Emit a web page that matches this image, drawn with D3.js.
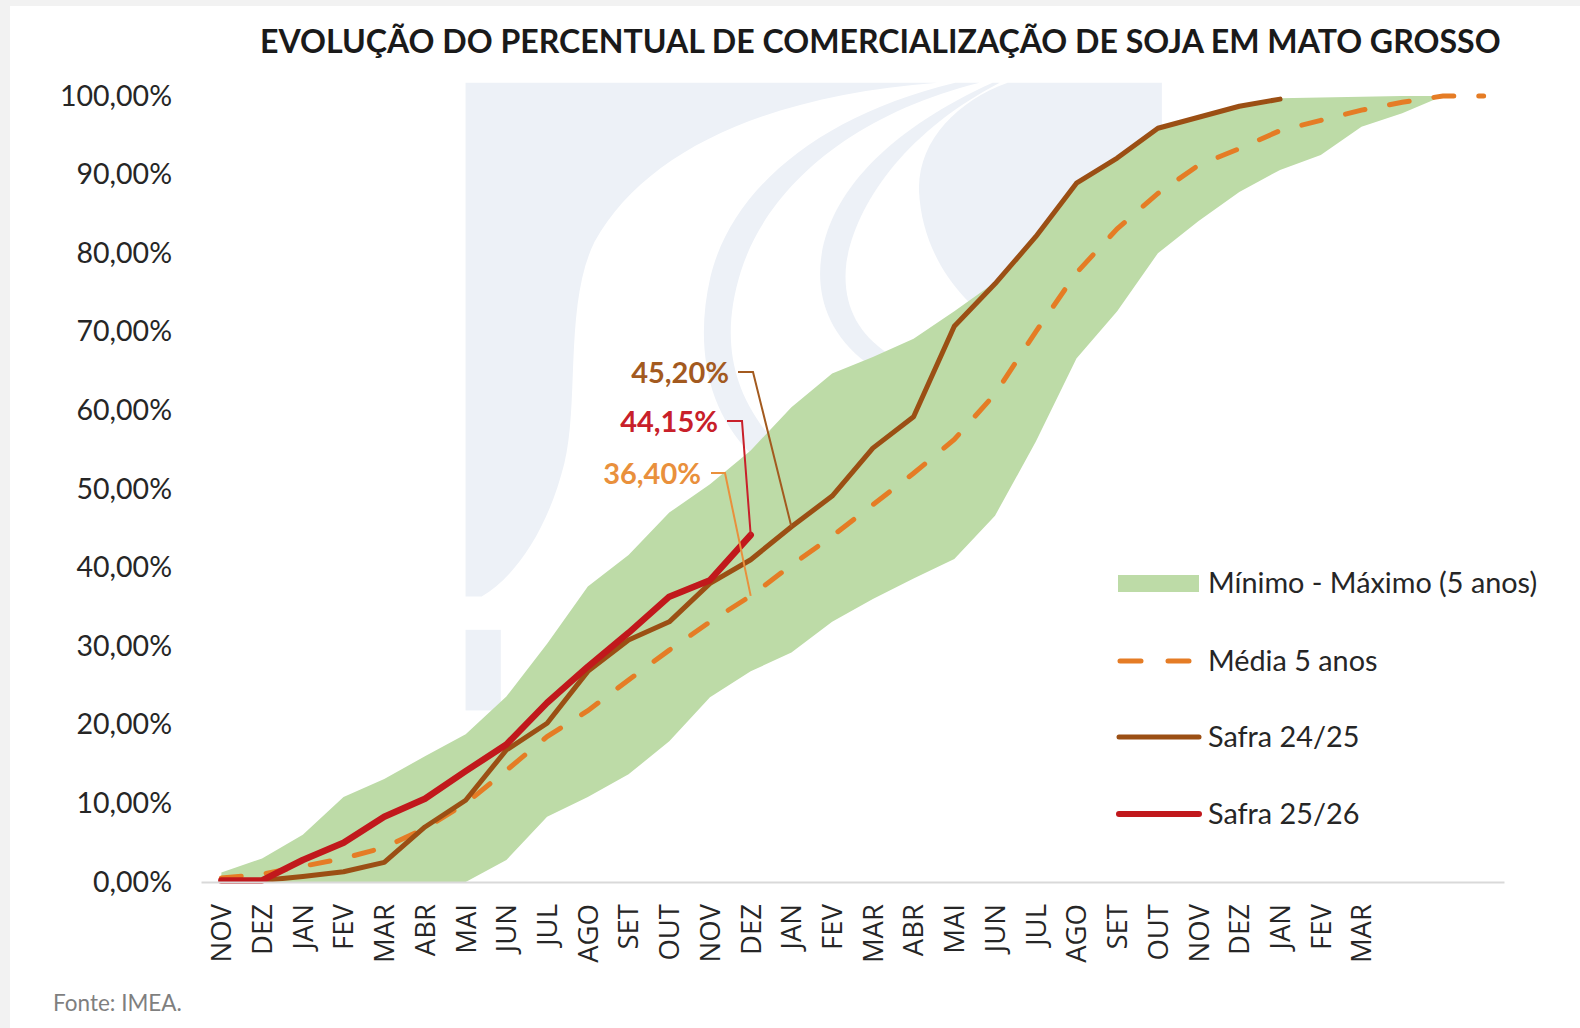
<!DOCTYPE html>
<html><head><meta charset="utf-8">
<script src="https://cdn.jsdelivr.net/npm/d3@7"></script>
<style>body{margin:0;background:#f2f2f2;} svg{display:block}</style>
</head><body>
<svg id="chart" width="1580" height="1028"></svg>
<script>
// ---------- DATA ----------
const tickLabels = ["NOV","DEZ","JAN","FEV","MAR","ABR","MAI","JUN","JUL","AGO","SET","OUT",
  "NOV","DEZ","JAN","FEV","MAR","ABR","MAI","JUN","JUL","AGO","SET","OUT",
  "NOV","DEZ","JAN","FEV","MAR","","",""];
const minValues = [0,0,0,0,0,0,0,2.8,8.3,10.8,13.7,17.9,23.5,26.8,29.2,33.1,36.0,38.6,41.1,46.6,56.0,66.6,72.6,80.0,84.1,87.8,90.6,92.5,96.1,97.8,100,100];
const maxValues = [1.2,3.0,6.0,10.8,13.1,16.0,18.8,23.6,30.3,37.6,41.6,47.0,50.6,54.9,60.4,64.7,66.8,69.1,72.6,76.3,82.3,89.1,92.3,96.1,97.5,98.9,99.7,99.8,99.9,100,100,100];
const mediaValues = [0.5,1.0,2.0,3.0,4.4,6.8,10.0,14.2,18.5,21.8,25.7,29.5,33.1,36.4,40.3,44.0,48.0,52.0,56.3,62.1,70.0,77.5,83.1,87.6,91.2,93.3,95.6,96.9,98.2,99.2,100,100];
const safra2425 = [0.2,0.2,0.7,1.3,2.5,7.0,10.4,16.8,20.2,26.8,30.8,33.1,38.0,41.0,45.2,49.1,55.2,59.2,70.7,76.1,82.1,88.9,92.1,95.9,97.3,98.7,99.6];
const safra2526 = [0.2,0.2,2.8,5.0,8.3,10.6,14.1,17.5,22.8,27.4,31.7,36.3,38.4,44.15];
const yTicks = [0,10,20,30,40,50,60,70,80,90,100];
const seriesNames = ["Mínimo - Máximo (5 anos)","Média 5 anos","Safra 24/25","Safra 25/26"];
const annotations = [
  {series:"safra2425", index:14, value:45.20, text:"45,20%"},
  {series:"safra2526", index:13, value:44.15, text:"44,15%"},
  {series:"media", index:13, value:36.40, text:"36,40%"}
];

// ---------- STYLE ----------
const C = {green:"#bddba7", media:"#e57c25", brown:"#9b4f14", red:"#c1181c",
  aBrown:"#a35a1f", aRed:"#c8202a", aOrange:"#e9903c", text:"#262626", wm:"#edf1f7"};

const svg = d3.select("#chart");
svg.append("rect").attr("x",10).attr("y",6).attr("width",1570).attr("height",1022).attr("fill","#fff");

// ---------- WATERMARK (decorative) ----------
const wm = svg.append("g").attr("transform","scale(1.0077)").attr("fill",C.wm);
wm.append("path").attr("d","M462,82 L930,82 C760,95 640,150 590,240 C560,300 575,400 560,460 C545,520 515,570 478,592 L462,592 Z");
wm.append("rect").attr("x",462).attr("y",625).attr("width",35).attr("height",80);
wm.append("path").attr("d","M948,82 L972,82 C840,115 760,190 735,270 C715,335 725,390 770,440 L745,450 C700,405 690,340 705,275 C725,190 810,115 948,82 Z");
wm.append("path").attr("d","M985,82 L992,82 C900,130 850,200 840,260 C835,300 850,330 880,350 L860,360 C820,330 810,290 815,255 C825,185 890,125 985,82 Z");
wm.append("path").attr("d","M1000,82 L1153,82 L1153,228 L1000,330 C950,300 915,250 912,190 C910,140 950,100 1000,82 Z");

// ---------- SCALES ----------
const n = tickLabels.length;
const x = d3.scaleBand().domain(d3.range(n)).range([201,1504]).paddingInner(0).paddingOuter(0);
const xc = i => x(i) + x.bandwidth()/2;
const y = d3.scaleLinear().domain([0,100]).range([882,96]);

// ---------- BAND ----------
const area = d3.area().x((d,i)=>xc(i)).y0((d,i)=>y(minValues[i])).y1((d,i)=>y(maxValues[i]));
svg.append("path").datum(d3.range(n)).attr("d",area).attr("fill",C.green);

// ---------- LINES ----------
const line = d3.line().x((d,i)=>xc(i)).y(d=>y(d));
svg.append("path").datum(mediaValues).attr("d",line).attr("fill","none")
  .attr("stroke",C.media).attr("stroke-width",5).attr("stroke-dasharray","20,25").attr("stroke-linecap","round");
svg.append("path").datum(safra2425).attr("d",line).attr("fill","none")
  .attr("stroke",C.brown).attr("stroke-width",5).attr("stroke-linejoin","round").attr("stroke-linecap","round");
svg.append("path").datum(safra2526).attr("d",line).attr("fill","none")
  .attr("stroke",C.red).attr("stroke-width",6.5).attr("stroke-linejoin","round").attr("stroke-linecap","round");

// ---------- AXES ----------
const yAxis = svg.append("g").attr("transform","translate(180,0)")
  .call(d3.axisLeft(y).tickValues(yTicks).tickSize(0).tickPadding(8)
    .tickFormat(d=>d.toFixed(2).replace(".",",")+"%"));
yAxis.select(".domain").remove();
yAxis.selectAll("text").attr("font-family","Lato").attr("font-size",28.5).attr("fill",C.text);

const xAxis = svg.append("g").attr("transform","translate(0,882)")
  .call(d3.axisBottom(x).tickSize(0).tickFormat(i=>tickLabels[i]));
xAxis.select(".domain").attr("stroke","#d9d9d9").attr("stroke-width",2);
xAxis.selectAll("text").attr("font-family","Open Sans").attr("font-size",27.5).attr("fill",C.text)
  .attr("transform","rotate(-90)").attr("text-anchor","end").attr("x",-22).attr("y",0).attr("dy","0.36em");

// ---------- ANNOTATIONS ----------
const seriesMap = {safra2425:safra2425, safra2526:safra2526, media:mediaValues};
const annLayout = [
  {tx:729, ty:373, lx:[738,753], col:C.aBrown},
  {tx:718, ty:422, lx:[727,742], col:C.aRed},
  {tx:701, ty:474, lx:[711,725], col:C.aOrange}
];
annotations.forEach((a,k)=>{
  const L = annLayout[k];
  const px = xc(a.index), py = y(seriesMap[a.series][a.index]);
  svg.append("path").attr("d",`M${L.lx[0]},${L.ty-1} L${L.lx[1]},${L.ty-1} L${px},${py}`)
    .attr("fill","none").attr("stroke",L.col).attr("stroke-width",2);
  svg.append("text").attr("x",L.tx).attr("y",L.ty).attr("dy","0.35em").attr("text-anchor","end")
    .attr("font-family","Lato").attr("font-weight","bold").attr("font-size",29).attr("fill",L.col).text(a.text);
});

// ---------- LEGEND ----------
const lg = svg.append("g");
const ly = [583,661,737,814];
lg.append("rect").attr("x",1118).attr("y",575).attr("width",81).attr("height",17).attr("fill",C.green);
lg.append("line").attr("x1",1120).attr("x2",1192).attr("y1",ly[1]).attr("y2",ly[1]).attr("stroke",C.media)
  .attr("stroke-width",5).attr("stroke-dasharray","21,27").attr("stroke-linecap","round");
lg.append("line").attr("x1",1119).attr("x2",1199).attr("y1",ly[2]).attr("y2",ly[2]).attr("stroke",C.brown).attr("stroke-width",5).attr("stroke-linecap","round");
lg.append("line").attr("x1",1119).attr("x2",1199).attr("y1",ly[3]).attr("y2",ly[3]).attr("stroke",C.red).attr("stroke-width",6).attr("stroke-linecap","round");
seriesNames.forEach((s,i)=>{
  lg.append("text").attr("x",1208).attr("y",ly[i]).attr("dy","0.35em").attr("font-family","Lato")
    .attr("font-size",28.8).attr("fill",C.text).text(s);
});

// ---------- TITLE & SOURCE ----------
const title = svg.append("text").attr("x",260).attr("y",42).attr("dy","0.35em")
  .attr("font-family","Lato").attr("font-weight","bold").attr("font-size",30).attr("fill","#1a1a1a")
  .text("EVOLUÇÃO DO PERCENTUAL DE COMERCIALIZAÇÃO DE SOJA EM MATO GROSSO");
const tw = title.node().getComputedTextLength();
title.attr("font-size", 30*1241/tw);

svg.append("text").attr("x",53).attr("y",1003).attr("dy","0.35em").attr("font-family","Lato")
  .attr("font-size",22.5).attr("fill","#7f7f7f").text("Fonte: IMEA.");
</script>
</body></html>
